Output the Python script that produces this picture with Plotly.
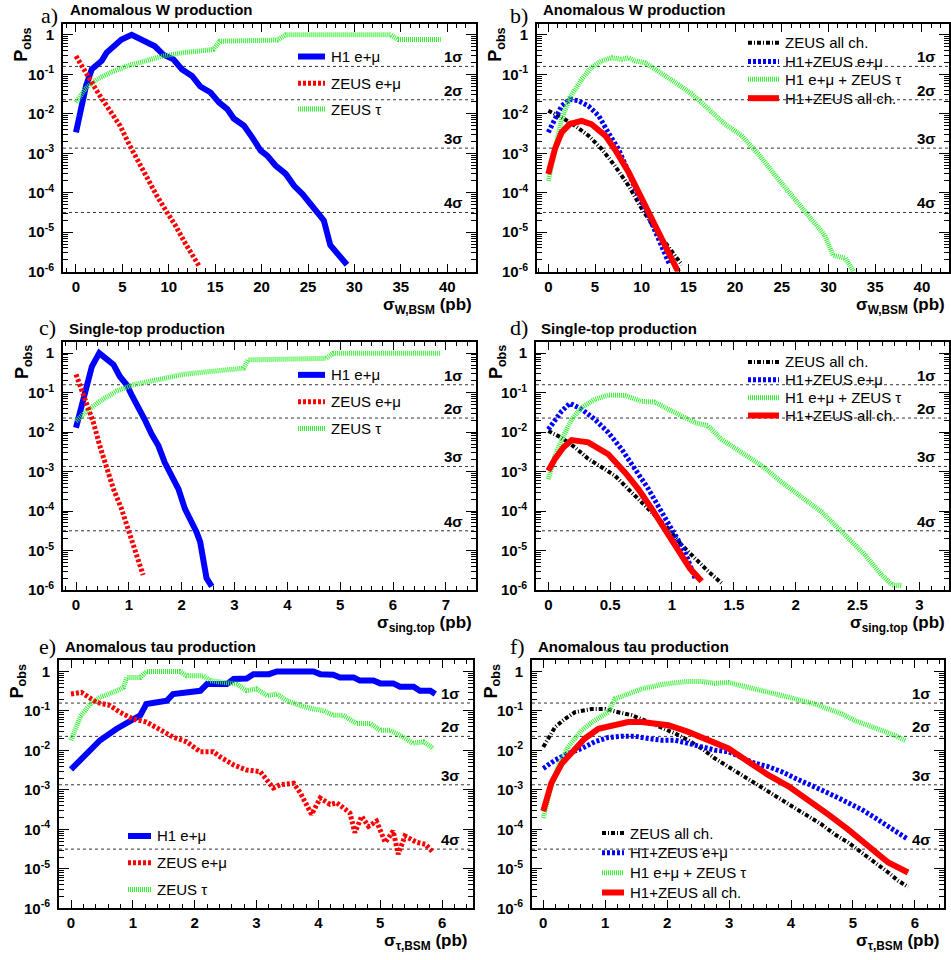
import numpy as np
import plotly.graph_objects as go

W, H = 951, 960

# one-sided Gaussian tail probabilities of the significance levels
sigma_labels = ["1σ", "2σ", "3σ", "4σ"]
sigma_p = [0.1587, 0.02275, 1.35e-3, 3.17e-5]

# y tick labels (log scale)
ytick_vals = [1e-6, 1e-5, 1e-4, 1e-3, 1e-2, 1e-1, 1]
ytick_text = ["10<sup>-6</sup>", "10<sup>-5</sup>", "10<sup>-4</sup>", "10<sup>-3</sup>",
              "10<sup>-2</sup>", "10<sup>-1</sup>", "1"]

# ---------------- a) anomalous W, single channels ----------------
a_h1_x = [0, 0.43, 1.08, 1.7, 2.23, 2.77, 3.3, 4.0, 4.9, 6.0, 7.27, 8.5, 9.4, 10.5, 11.4, 12.5,
          13.4, 14.5, 15.4, 16.3, 17.0, 18.1, 19.0, 19.9, 20.6, 21.5, 22.6, 23.5, 24.4, 25.4,
          26.2, 26.7, 27.4, 29.2]
a_h1_p = [3.4e-3, 1.07e-2, 5.1e-2, 0.135, 0.178, 0.219, 0.355, 0.513, 0.759, 1.0, 0.692, 0.513,
          0.316, 0.24, 0.135, 0.091, 0.049, 0.0347, 0.0195, 0.0132, 7.6e-3, 5.0e-3, 2.5e-3,
          1.17e-3, 8.7e-4, 4.9e-4, 3.0e-4, 1.5e-4, 9.3e-5, 4.8e-5, 2.7e-5, 2.0e-5, 4.7e-6, 1.5e-6]
a_zem_x = [0, 0.8, 1.7, 2.6, 3.67, 4.75, 5.8, 6.9, 7.8, 8.7, 9.8, 10.7, 11.8, 12.5, 13.3]
a_zem_p = [0.29, 0.148, 0.062, 0.028, 0.012, 5.0e-3, 1.55e-3, 4.9e-4, 2.2e-4, 8.5e-5, 3.2e-5,
           1.5e-5, 5.1e-6, 2.9e-6, 1.35e-6]
a_ztau_x = [0, 0.97, 2.23, 3.67, 5.47, 7.27, 9.4, 11.6, 13.4, 14.8, 15.5, 17.0, 21.7, 22.6,
            33.9, 34.7, 39.3]
a_ztau_p = [0.0195, 0.042, 0.074, 0.11, 0.162, 0.219, 0.29, 0.355, 0.39, 0.427, 0.69, 0.69,
            0.74, 1.0, 1.0, 0.76, 0.76]

# ---------------- b) anomalous W, combinations ----------------
b_zall_x = [0, 1.43, 2.86, 4.29, 5.7, 7.1, 8.6, 10.0, 11.4, 12.9, 14.3]
b_zall_p = [0.012, 8.1e-3, 5.0e-3, 2.8e-3, 1.29e-3, 4.9e-4, 1.5e-4, 4.0e-5, 1.23e-5, 4.3e-6, 1.5e-6]
b_cem_x = [0, 0.71, 1.43, 2.3, 3.2, 4.3, 5.4, 6.4, 7.5, 8.6, 9.6, 10.7, 11.8, 13.0]
b_cem_p = [3.4e-3, 7.4e-3, 0.0158, 0.0234, 0.0214, 0.0158, 8.9e-3, 3.4e-3, 1.29e-3, 3.3e-4,
           8.5e-5, 2.7e-5, 6.9e-6, 1.5e-6]
b_ctau_x = [0, 0.71, 1.43, 2.3, 3.57, 4.6, 5.7, 6.8, 7.86, 8.6, 9.3, 10.4, 11.8, 13.6, 15.4,
            17.1, 18.9, 20.7, 22.5, 24.3, 26.1, 27.9, 29.6, 30.5, 31.8, 32.7]
b_ctau_p = [2.0e-4, 1.07e-3, 7.4e-3, 0.0257, 0.074, 0.148, 0.219, 0.263, 0.24, 0.263, 0.219,
            0.195, 0.12, 0.062, 0.0316, 0.0132, 5.5e-3, 2.8e-3, 9.5e-4, 2.75e-4, 8.5e-5, 2.7e-5,
            8.3e-6, 2.6e-6, 2.2e-6, 1.0e-6]
b_call_x = [0, 0.71, 1.43, 2.3, 3.57, 4.6, 6.1, 7.1, 8.6, 10.0, 11.4, 12.9, 13.75, 13.9]
b_call_p = [3.0e-4, 1.29e-3, 3.4e-3, 5.5e-3, 6.6e-3, 5.5e-3, 2.8e-3, 1.29e-3, 3.3e-4, 7.1e-5,
            1.5e-5, 3.2e-6, 1.35e-6, 1.0e-6]

# ---------------- c) single top, single channels ----------------
c_h1_x = [0, 0.107, 0.2, 0.3, 0.44, 0.58, 0.71, 0.83, 0.96, 1.05, 1.18, 1.3, 1.43, 1.56, 1.68,
          1.81, 1.94, 2.06, 2.19, 2.28, 2.35, 2.41, 2.47, 2.57]
c_h1_p = [0.0129, 0.0457, 0.178, 0.457, 1.0, 0.741, 0.513, 0.257, 0.158, 0.089, 0.0457, 0.0209,
          8.9e-3, 4.5e-3, 1.7e-3, 7.2e-4, 3.6e-4, 1.15e-4, 5.4e-5, 2.95e-5, 1.66e-5, 5.2e-6,
          2.0e-6, 1.23e-6]
c_zem_x = [0, 0.107, 0.2, 0.33, 0.45, 0.58, 0.71, 0.86, 0.99, 1.12, 1.27]
c_zem_p = [0.29, 0.12, 0.051, 0.0174, 4.5e-3, 1.17e-3, 3.6e-4, 1.15e-4, 3.6e-5, 1.12e-5, 2.4e-6]
c_ztau_x = [0, 0.2, 0.45, 0.77, 1.08, 1.4, 1.71, 2.03, 2.35, 2.66, 2.98, 3.17, 3.26, 4.74, 4.87, 6.89]
c_ztau_p = [0.019, 0.034, 0.060, 0.11, 0.158, 0.195, 0.234, 0.29, 0.324, 0.363, 0.398, 0.417,
            0.676, 0.741, 1.0, 1.0]

# ---------------- d) single top, combinations ----------------
d_zall_x = [0, 0.108, 0.216, 0.323, 0.431, 0.539, 0.647, 0.755, 0.863, 0.97, 1.078, 1.186,
            1.294, 1.40]
d_zall_p = [0.0107, 7.2e-3, 4.1e-3, 2.1e-3, 1.29e-3, 7.9e-4, 3.6e-4, 1.7e-4, 7.8e-5, 3.6e-5,
            1.38e-5, 6.3e-6, 2.95e-6, 1.5e-6]
d_cem_x = [0, 0.054, 0.108, 0.175, 0.27, 0.377, 0.485, 0.593, 0.70, 0.81, 0.916, 1.02, 1.105, 1.186]
d_cem_p = [0.0117, 0.0209, 0.034, 0.054, 0.038, 0.0209, 9.8e-3, 3.7e-3, 1.17e-3, 3.6e-4, 9.5e-5,
           2.45e-5, 9.3e-6, 2.0e-6]
d_ctau_x = [0, 0.054, 0.121, 0.189, 0.27, 0.377, 0.485, 0.62, 0.755, 0.86, 0.97, 1.078, 1.186,
            1.29, 1.40, 1.56, 1.725, 1.887, 2.05, 2.21, 2.32, 2.43, 2.56, 2.695, 2.78, 2.86]
d_ctau_p = [6.5e-4, 2.5e-3, 7.9e-3, 0.0209, 0.042, 0.068, 0.087, 0.085, 0.060, 0.0575, 0.038,
            0.0257, 0.0174, 0.0145, 6.6e-3, 3.1e-3, 1.41e-3, 5.4e-4, 2.2e-4, 9.5e-5, 4.4e-5,
            2.0e-5, 7.8e-6, 2.4e-6, 1.35e-6, 1.3e-6]
d_call_x = [0, 0.054, 0.121, 0.189, 0.323, 0.485, 0.62, 0.728, 0.836, 0.943, 1.05, 1.146, 1.24]
d_call_p = [1.05e-3, 2.1e-3, 4.1e-3, 6.3e-3, 5.5e-3, 2.75e-3, 9.5e-4, 3.6e-4, 1.15e-4, 3.6e-5,
            1.12e-5, 3.5e-6, 1.66e-6]

# ---------------- e) anomalous tau, single channels ----------------
e_h1_x = [0, 0.2, 0.47, 0.74, 1.0, 1.12, 1.22, 1.55, 1.65, 2.09, 2.2, 2.52, 2.63, 2.84, 2.95,
          3.2, 3.33, 3.92, 4.03, 4.24, 4.35, 4.57, 4.67, 4.89, 5.0, 5.21, 5.32, 5.54, 5.64,
          5.81, 5.89]
e_h1_p = [3.3e-3, 6.9e-3, 0.0182, 0.0355, 0.063, 0.078, 0.151, 0.182, 0.269, 0.324, 0.479,
          0.479, 0.646, 0.667, 0.857, 0.857, 1.0, 1.0, 0.857, 0.83, 0.708, 0.708, 0.589, 0.589,
          0.50, 0.50, 0.412, 0.412, 0.327, 0.327, 0.269]
e_zem_x = [0, 0.17, 0.41, 0.63, 0.79, 1.0, 1.22, 1.44, 1.65, 1.87, 2.09, 2.30, 2.41, 2.63, 2.84,
           3.06, 3.27, 3.38, 3.6, 3.71, 3.89, 4.03, 4.19, 4.30, 4.51, 4.59, 4.70, 4.81, 4.94,
           5.08, 5.21, 5.29, 5.40, 5.59, 5.73, 5.86]
e_zem_p = [0.269, 0.295, 0.166, 0.138, 0.093, 0.063, 0.0525, 0.0324, 0.0219, 0.0166, 9.3e-3,
           9.3e-3, 6.9e-3, 4.3e-3, 3.2e-3, 2.9e-3, 1.12e-3, 1.35e-3, 1.48e-3, 8.3e-4, 2.4e-4,
           6.2e-4, 4.3e-4, 4.7e-4, 2.6e-4, 8.3e-5, 2.15e-4, 1.2e-4, 1.62e-4, 4.7e-5, 9.1e-5,
           2.35e-5, 6.8e-5, 4.7e-5, 4.2e-5, 2.6e-5]
e_ztau_x = [0, 0.15, 0.31, 0.47, 0.68, 0.85, 0.9, 1.12, 1.22, 1.76, 1.87, 2.14, 2.25, 2.52, 2.68,
            2.84, 3.0, 3.17, 3.33, 3.49, 3.70, 3.92, 4.08, 4.24, 4.40, 4.62, 4.84, 5.0, 5.16,
            5.37, 5.53, 5.70, 5.86]
e_ztau_p = [0.0182, 0.071, 0.151, 0.224, 0.295, 0.398, 0.708, 0.708, 1.0, 1.0, 0.776, 0.776,
            0.589, 0.525, 0.479, 0.327, 0.363, 0.245, 0.269, 0.182, 0.138, 0.112, 0.102, 0.078,
            0.078, 0.0479, 0.0479, 0.0324, 0.0324, 0.0219, 0.0151, 0.0166, 0.0112]

# ---------------- f) anomalous tau, combinations ----------------
f_zall_x = [0, 0.19, 0.35, 0.51, 0.78, 1.0, 1.21, 1.43, 1.70, 1.91, 2.13, 2.34, 2.56, 2.77, 2.99,
            3.20, 3.42, 3.63, 3.85, 4.06, 4.28, 4.49, 4.71, 4.92, 5.14, 5.36, 5.57, 5.73, 5.89]
f_zall_p = [0.0123, 0.039, 0.063, 0.093, 0.112, 0.112, 0.093, 0.078, 0.0525, 0.039, 0.0269,
            0.0182, 0.0112, 6.3e-3, 3.9e-3, 2.4e-3, 1.48e-3, 9.1e-4, 5.6e-4, 3.5e-4, 2.15e-4,
            1.35e-4, 7.4e-5, 4.7e-5, 2.6e-5, 1.45e-5, 8.1e-6, 5.0e-6, 3.5e-6]
f_cem_x = [0, 0.19, 0.40, 0.62, 0.83, 1.05, 1.26, 1.48, 1.70, 1.91, 2.13, 2.34, 2.56, 2.77, 2.99,
           3.20, 3.42, 3.63, 3.85, 4.06, 4.28, 4.49, 4.71, 4.92, 5.14, 5.36, 5.57, 5.73, 5.89]
f_cem_p = [3.5e-3, 5.7e-3, 8.3e-3, 0.0112, 0.0166, 0.0214, 0.0229, 0.0229, 0.020, 0.0182, 0.0182,
           0.0151, 0.0123, 0.0102, 9.3e-3, 6.9e-3, 4.7e-3, 3.9e-3, 2.9e-3, 2.0e-3, 1.35e-3,
           1.0e-3, 6.9e-4, 4.7e-4, 3.2e-4, 1.95e-4, 1.2e-4, 8.3e-5, 5.6e-5]
f_ctau_x = [0, 0.11, 0.24, 0.40, 0.62, 0.83, 1.05, 1.16, 1.37, 1.59, 1.91, 2.13, 2.34, 2.56, 2.77,
            2.99, 3.20, 3.47, 3.74, 3.96, 4.17, 4.39, 4.60, 4.82, 5.03, 5.25, 5.46, 5.68, 5.86]
f_ctau_p = [1.95e-4, 1.0e-3, 3.9e-3, 0.0123, 0.0324, 0.0575, 0.093, 0.204, 0.269, 0.363, 0.468,
            0.525, 0.562, 0.562, 0.50, 0.525, 0.437, 0.363, 0.282, 0.224, 0.182, 0.151, 0.112,
            0.085, 0.0575, 0.0437, 0.0324, 0.024, 0.0174]
f_call_x = [0, 0.13, 0.30, 0.46, 0.67, 0.89, 1.10, 1.37, 1.59, 1.80, 2.02, 2.34, 2.66, 2.99, 3.31,
            3.63, 3.96, 4.28, 4.60, 4.92, 5.25, 5.57, 5.89]
f_call_p = [2.9e-4, 1.48e-3, 4.7e-3, 9.3e-3, 0.020, 0.0355, 0.0437, 0.0525, 0.0525, 0.049, 0.0437,
            0.0295, 0.0182, 0.0112, 5.2e-3, 2.4e-3, 1.23e-3, 5.6e-4, 2.4e-4, 1.0e-4, 3.8e-5,
            1.45e-5, 8.1e-6]

# ---------------- line styles ----------------
STYLE = {
    "h1_em":    dict(color="#0000ff", width=6, dash="solid"),
    "zeus_em":  dict(color="#ff0000", width=5, dash="3px,2px"),
    "zeus_tau": dict(color="#33ee33", width=5, dash="1px,1px"),
    "zeus_all": dict(color="#000000", width=4, dash="4px,2px,1px,2px"),
    "comb_em":  dict(color="#0000ff", width=5, dash="3px,2px"),
    "comb_tau": dict(color="#33ee33", width=5, dash="1px,1px"),
    "comb_all": dict(color="#ff0000", width=6, dash="solid"),
}
NAMES = {
    "h1_em": "H1 e+μ", "zeus_em": "ZEUS e+μ", "zeus_tau": "ZEUS τ",
    "zeus_all": "ZEUS all ch.", "comb_em": "H1+ZEUS e+μ",
    "comb_tau": "H1 e+μ + ZEUS τ", "comb_all": "H1+ZEUS all ch.",
}

# panel layout in pixels: frame box, x range, ticks, text positions, legend
panels = [
    dict(letter="a)", title="Anomalous W production", box=(63, 476, 24, 274), xr=(-1.4, 43.1),
         dt=5, mdt=1, xtitle="σ<sub>W,BSM</sub> (pb)",
         curves=[("h1_em", a_h1_x, a_h1_p), ("zeus_tau", a_ztau_x, a_ztau_p),
                 ("zeus_em", a_zem_x, a_zem_p)],
         legend=["h1_em", "zeus_em", "zeus_tau"], leg_x=(298, 325), leg_y=[57, 84, 110],
         letter_xy=(49, 16), title_xy=(68, 10), pobs_xy=(23, 26), xt_xy=(474, 295)),
    dict(letter="b)", title="Anomalous W production", box=(537, 949, 24, 274), xr=(-1.21, 42.9),
         dt=5, mdt=1, xtitle="σ<sub>W,BSM</sub> (pb)",
         curves=[("zeus_all", b_zall_x, b_zall_p), ("comb_em", b_cem_x, b_cem_p),
                 ("comb_tau", b_ctau_x, b_ctau_p), ("comb_all", b_call_x, b_call_p)],
         legend=["zeus_all", "comb_em", "comb_tau", "comb_all"], leg_x=(748, 779),
         leg_y=[43, 62, 80, 99],
         letter_xy=(519, 16), title_xy=(541, 10), pobs_xy=(497, 26), xt_xy=(947, 295)),
    dict(letter="c)", title="Single-top production", box=(63, 476, 345, 595), xr=(-0.246, 7.57),
         dt=1, mdt=0.2, xtitle="σ<sub>sing.top</sub> (pb)",
         curves=[("h1_em", c_h1_x, c_h1_p), ("zeus_tau", c_ztau_x, c_ztau_p),
                 ("zeus_em", c_zem_x, c_zem_p)],
         legend=["h1_em", "zeus_em", "zeus_tau"], leg_x=(298, 325), leg_y=[378, 405, 432],
         letter_xy=(47, 330), title_xy=(67, 331), pobs_xy=(23, 346), xt_xy=(474, 616)),
    dict(letter="d)", title="Single-top production", box=(536, 949, 345, 595), xr=(-0.0995, 3.24),
         dt=0.5, mdt=0.1, xtitle="σ<sub>sing.top</sub> (pb)",
         curves=[("zeus_all", d_zall_x, d_zall_p), ("comb_em", d_cem_x, d_cem_p),
                 ("comb_tau", d_ctau_x, d_ctau_p), ("comb_all", d_call_x, d_call_p)],
         legend=["zeus_all", "comb_em", "comb_tau", "comb_all"], leg_x=(748, 779),
         leg_y=[365, 383, 401, 419],
         letter_xy=(519, 330), title_xy=(539, 331), pobs_xy=(497, 346), xt_xy=(947, 616)),
    dict(letter="e)", title="Anomalous tau production", box=(59, 473, 666, 916), xr=(-0.194, 6.50),
         dt=1, mdt=0.2, xtitle="σ<sub>τ,BSM</sub> (pb)",
         curves=[("h1_em", e_h1_x, e_h1_p), ("zeus_tau", e_ztau_x, e_ztau_p),
                 ("zeus_em", e_zem_x, e_zem_p)],
         legend=["h1_em", "zeus_em", "zeus_tau"], leg_x=(128, 151), leg_y=[843, 870, 897],
         letter_xy=(47, 652), title_xy=(63, 652), pobs_xy=(18, 668), xt_xy=(470, 937)),
    dict(letter="f)", title="Anomalous tau production", box=(532, 944, 666, 916), xr=(-0.182, 6.47),
         dt=1, mdt=0.2, xtitle="σ<sub>τ,BSM</sub> (pb)",
         curves=[("zeus_all", f_zall_x, f_zall_p), ("comb_em", f_cem_x, f_cem_p),
                 ("comb_tau", f_ctau_x, f_ctau_p), ("comb_all", f_call_x, f_call_p)],
         legend=["zeus_all", "comb_em", "comb_tau", "comb_all"], leg_x=(602, 624),
         leg_y=[840, 860, 880, 900],
         letter_xy=(517, 652), title_xy=(536, 652), pobs_xy=(492, 668), xt_xy=(942, 937)),
]

SANS = "Liberation Sans, Arial, Helvetica, sans-serif"
SERIF = "Liberation Serif, Times New Roman, serif"


def px(x):
    return x / W


def py(y):
    return 1 - y / H


minor_y = [k * 10.0 ** e for e in range(-6, 0) for k in range(2, 10)]

fig = go.Figure()
layout = dict(width=W, height=H, margin=dict(l=0, r=0, t=0, b=0), autosize=False,
              paper_bgcolor="white", plot_bgcolor="white", showlegend=False)
shapes, annotations = [], []

for i, pn in enumerate(panels, start=1):
    sfx = "" if i == 1 else str(i)
    xa, ya = "x" + sfx, "y" + sfx
    x0, x1, y0, y1 = pn["box"]

    layout["xaxis" + sfx] = dict(
        domain=[px(x0), px(x1)], anchor=ya, range=list(pn["xr"]), tick0=0, dtick=pn["dt"],
        ticks="inside", ticklen=8, tickwidth=1.3, tickcolor="black",
        minor=dict(ticks="inside", ticklen=4, dtick=pn["mdt"], tick0=0, tickwidth=1.1,
                   tickcolor="black", showgrid=False),
        showline=True, linewidth=2, linecolor="black", mirror="ticks",
        showgrid=False, zeroline=False,
        tickfont=dict(family=SANS, size=15, color="black", weight="bold"))
    layout["yaxis" + sfx] = dict(
        domain=[py(y1), py(y0)], anchor=xa, type="log", range=[-6, 0.28],
        tickmode="array", tickvals=ytick_vals, ticktext=ytick_text,
        ticks="inside", ticklen=10, tickwidth=1.3, tickcolor="black",
        minor=dict(ticks="inside", ticklen=5, tickvals=minor_y, tickwidth=1.1,
                   tickcolor="black", showgrid=False),
        showline=True, linewidth=2, linecolor="black", mirror="ticks",
        showgrid=False, zeroline=False, ticklabelstandoff=4,
        tickfont=dict(family=SANS, size=15, color="black", weight="bold"))

    # significance reference lines
    for lab, p in zip(sigma_labels, sigma_p):
        shapes.append(dict(type="line", xref=xa + " domain", x0=0, x1=1, yref=ya, y0=p, y1=p,
                           line=dict(color="#333333", width=1, dash="dot"), layer="below"))
        annotations.append(dict(xref=xa + " domain", x=1, xshift=-11, xanchor="right",
                                yref=ya, y=float(np.log10(p)), yanchor="bottom", yshift=-1,
                                text=lab, showarrow=False,
                                font=dict(family=SANS, size=15, color="black", weight="bold")))

    # curves
    for key, xs, ps in pn["curves"]:
        fig.add_trace(go.Scatter(x=xs, y=ps, mode="lines", line=STYLE[key], name=NAMES[key],
                                 xaxis=xa, yaxis=ya, showlegend=False, hoverinfo="skip"))

    # legend block
    lx0, lx1 = pn["leg_x"]
    for key, yy in zip(pn["legend"], pn["leg_y"]):
        shapes.append(dict(type="line", xref="paper", yref="paper", x0=px(lx0), x1=px(lx1),
                           y0=py(yy), y1=py(yy), line=STYLE[key]))
        annotations.append(dict(xref="paper", yref="paper", x=px(lx1 + 4), y=py(yy),
                                xanchor="left", yanchor="middle", text=NAMES[key],
                                showarrow=False,
                                font=dict(family=SANS, size=15, color="black")))

    # panel letter and title
    lx, ly = pn["letter_xy"]
    annotations.append(dict(xref="paper", yref="paper", x=px(lx), y=py(ly), xanchor="center",
                            yanchor="middle", text=pn["letter"], showarrow=False,
                            font=dict(family=SERIF, size=22, color="black")))
    tx, ty = pn["title_xy"]
    annotations.append(dict(xref="paper", yref="paper", x=px(tx), y=py(ty), xanchor="left",
                            yanchor="middle", text=pn["title"], showarrow=False,
                            font=dict(family=SANS, size=15, color="black", weight="bold")))
    # axis titles
    pxp, pyp = pn["pobs_xy"]
    annotations.append(dict(xref="paper", yref="paper", x=px(pxp), y=py(pyp), xanchor="center",
                            yanchor="top", text="P<sub>obs</sub>", textangle=-90,
                            showarrow=False,
                            font=dict(family=SANS, size=18, color="black", weight="bold")))
    xtx, xty = pn["xt_xy"]
    annotations.append(dict(xref="paper", yref="paper", x=px(xtx), y=py(xty), xanchor="right",
                            yanchor="top", text=pn["xtitle"], showarrow=False,
                            font=dict(family=SANS, size=17, color="black", weight="bold")))

layout["shapes"] = shapes
layout["annotations"] = annotations
fig.update_layout(**layout)
fig.write_html("out.html")
